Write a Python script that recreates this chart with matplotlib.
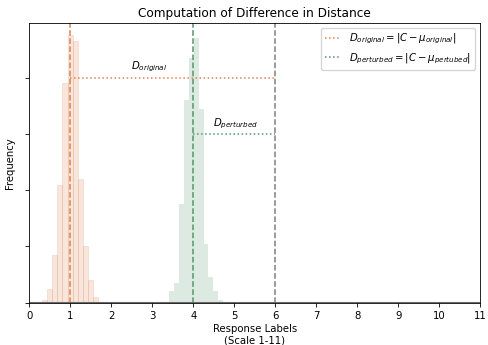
import numpy as np
import matplotlib.pyplot as plt

# histogram bins (response label scale) and counts
orig_edges = np.linspace(0.317, 1.670, 12)
orig_counts = [1, 5, 17, 42, 78, 95, 93, 44, 20, 8, 2]
pert_edges = np.linspace(3.41, 4.73, 12)
pert_counts = [4, 7, 35, 72, 87, 94, 69, 21, 9, 4, 1]

mu_original = 1
mu_perturbed = 4
C = 6
y_original = 80
y_perturbed = 60

orange = "#DD8452"
green = "#55966A"

plt.rcParams["font.size"] = 7.3
plt.rcParams["xtick.major.size"] = 2.6
plt.rcParams["ytick.major.size"] = 2.6
plt.rcParams["xtick.major.width"] = 0.6
plt.rcParams["ytick.major.width"] = 0.6
plt.rcParams["axes.linewidth"] = 0.6

fig, ax = plt.subplots(figsize=(4.89, 3.45), dpi=100)
fig.subplots_adjust(left=0.06, right=0.982, top=0.934, bottom=0.1226)

ax.bar(orig_edges[:-1], orig_counts, width=np.diff(orig_edges), align="edge",
       color=orange, alpha=0.2, edgecolor=orange, linewidth=0.6)
ax.bar(pert_edges[:-1], pert_counts, width=np.diff(pert_edges), align="edge",
       color=green, alpha=0.2, linewidth=0)

ax.axvline(mu_original, color=orange, linestyle="--", lw=1.1)
ax.axvline(mu_perturbed, color=green, linestyle="--", lw=1.1)
ax.axvline(C, color="gray", linestyle="--", lw=1.1)
ax.axhline(0, color="dimgray", lw=1.5)

ax.hlines(y_original, mu_original, C, colors=orange, linestyles=":", lw=1.1,
          label=r"$D_{original} = |C - \mu_{original}|$")
ax.hlines(y_perturbed, mu_perturbed, C, colors=green, linestyles=":", lw=1.1,
          label=r"$D_{perturbed} = |C - \mu_{pertubed}|$")

ax.text(2.93, y_original + 1.2, r"$D_{original}$", ha="center", va="bottom")
ax.text(5.04, y_perturbed + 1.2, r"$D_{perturbed}$", ha="center", va="bottom")

ax.set_xlim(0, 11)
ax.set_ylim(0, 99.5)
ax.set_xticks(range(0, 12))
ax.set_yticks([0, 20, 40, 60, 80])
ax.set_yticklabels([])
ax.set_xlabel("Response Labels\n(Scale 1-11)", labelpad=2)
ax.set_ylabel("Frequency")
ax.set_title("Computation of Difference in Distance", fontsize=8.75, pad=4.5)
ax.legend(loc="upper right", handlelength=1.6)

fig.savefig("out.png")
